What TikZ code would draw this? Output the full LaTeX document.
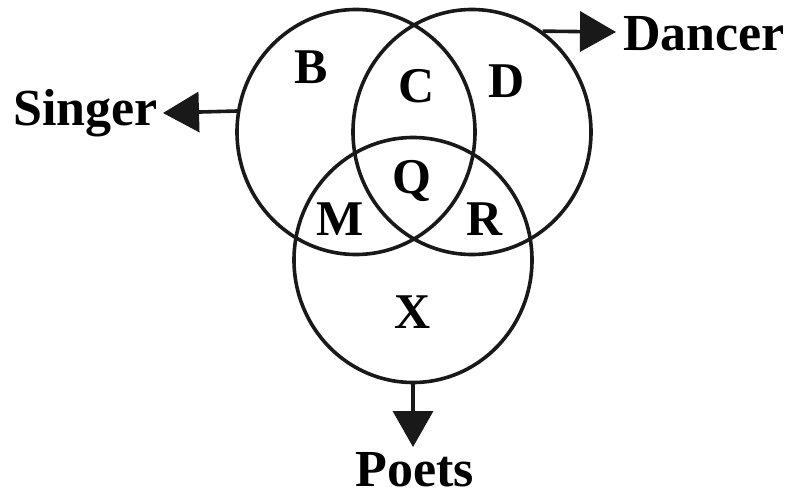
\documentclass[tikz,border=0pt]{standalone}
\usepackage{fontspec}
\setmainfont{Liberation Serif}
\usetikzlibrary{shapes.geometric,arrows.meta}
\begin{document}
\begin{tikzpicture}[x=1pt,y=-1pt,
  setring/.style={draw=black!90, line width=3.6pt, ellipse, inner sep=0pt,
    minimum width=238pt, minimum height=245pt},
  region/.style={font=\fontsize{50}{56}\selectfont\bfseries, inner sep=0pt, anchor=base},
  lbl/.style={font=\fontsize{52}{60}\selectfont\bfseries, inner sep=0pt},
  arr/.style={line width=3.6pt, draw=black!90,
    -{Triangle[length=36pt,width=40pt]}}]
\useasboundingbox (0,0) rectangle (796,498);
% circles
\node[setring] (singer) at (356,132) {};
\node[setring] (dancer) at (472,132) {};
\node[setring] (poets) at (413,260) {};
% region letters
\node[region] (B) at (311,83) {B};
\node[region] (C) at (417,102) {C};
\node[region] (D) at (507,97) {D};
\node[region] (Q) at (412,193) {Q};
\node[region] (M) at (340,235) {M};
\node[region] (R) at (485,235) {R};
\node[region] (X) at (413,328) {X};
% labels
\node[lbl, anchor=base east] (singerlbl) at (158,125) {Singer};
\node[lbl, anchor=base west] (dancerlbl) at (623,50) {Dancer};
\node[lbl, anchor=base] (poetslbl) at (415,486) {Poets};
% arrow tips
\coordinate (stip) at (163,113);
\coordinate (dtip) at (616,32);
\coordinate (ptip) at (413,447);
\draw[arr] (singer.170.9) -- (stip);
\draw[arr] (dancer.55.4) -- (dtip);
\draw[arr] (poets.270) -- (ptip);
\end{tikzpicture}
\end{document}
